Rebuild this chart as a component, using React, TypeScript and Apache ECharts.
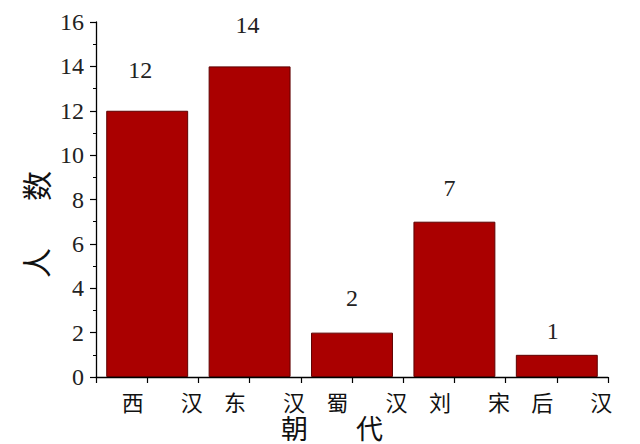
import React, { useEffect, useRef } from "react";
import * as echarts from "echarts";

const dynasties = ["西汉", "东汉", "蜀汉", "刘宋", "后汉"];
const counts = [12, 14, 2, 7, 1];
const yTicks = [0, 2, 4, 6, 8, 10, 12, 14, 16];
const xTitle = ["朝", "代"];
const yTitle = ["人", "数"];

// label styling (gap above each bar, horizontal nudge)
const labelDistance = [29, 29, 23, 22, 12];
const labelNudge = [-7, -2, 0, -5, -4];

const serif = "'Liberation Serif', 'Times New Roman', serif";
const cjk = "'Noto Sans CJK SC', sans-serif";

export default function App() {
  const ref = useRef<HTMLDivElement>(null);
  useEffect(() => {
    if (!ref.current) return;
    const chart = echarts.init(ref.current, null, { renderer: "svg" });
    const option = {
      animation: false,
      backgroundColor: "#ffffff",
      grid: {
        left: 96,
        right: 32,
        top: 22,
        bottom: 67,
        containLabel: false,
        outerBoundsMode: "none",
      },
      xAxis: [
        {
          type: "category",
          data: dynasties,
          position: "bottom",
          axisLine: { show: true, lineStyle: { color: "#000", width: 1.3 } },
          axisTick: { show: false },
          axisLabel: {
            margin: 13,
            interval: 0,
            formatter: (v: string) => `{s0| }{c|${v[0]}}{g| }{c|${v[1]}}`,
            rich: {
              c: { fontFamily: cjk, fontSize: 22, color: "#111" },
              g: { width: 37 },
              s0: { width: 30 },
            },
          },
          name: `{c|${xTitle[0]}}{g| }{c|${xTitle[1]}}{s| }`,
          nameLocation: "middle",
          nameGap: 37,
          nameMoveOverlap: false,
          nameTextStyle: {
            rich: {
              c: { fontFamily: cjk, fontSize: 27, color: "#111", lineHeight: 27 },
              g: { width: 48 },
              s: { width: 40 },
            },
          },
        },
        {
          type: "value",
          min: 0,
          max: dynasties.length * 2,
          interval: 1,
          position: "bottom",
          axisLine: { show: false },
          axisTick: { show: true, length: 6, lineStyle: { color: "#000", width: 1.2 } },
          axisLabel: { show: false },
          splitLine: { show: false },
        },
      ],
      yAxis: {
        type: "value",
        min: yTicks[0],
        max: yTicks[yTicks.length - 1],
        interval: yTicks[1] - yTicks[0],
        axisLine: { show: true, lineStyle: { color: "#000", width: 1.3 } },
        axisTick: { show: true, length: 6, lineStyle: { color: "#000", width: 1.2 } },
        minorTick: { show: true, splitNumber: 2, length: 3, lineStyle: { color: "#000", width: 1 } },
        splitLine: { show: false },
        axisLabel: {
          margin: 12,
          fontFamily: serif,
          fontSize: 24,
          color: "#222",
        },
        name: `{c|${yTitle[0]}}{g| }{c|${yTitle[1]}}{s| }`,
        nameLocation: "middle",
        nameRotate: 90,
        nameGap: 46,
        nameMoveOverlap: false,
        nameTextStyle: {
          rich: {
            c: { fontFamily: cjk, fontSize: 30, color: "#111" },
            g: { width: 47 },
            s: { width: 50 },
          },
        },
      },
      series: [
        {
          type: "bar",
          xAxisIndex: 0,
          yAxisIndex: 0,
          barWidth: "80%",
          data: counts.map((v, i) => ({
            value: v,
            label: { distance: labelDistance[i], offset: [labelNudge[i], 0] },
          })),
          itemStyle: { color: "#aa0000", borderColor: "#5e0000", borderWidth: 1 },
          label: {
            show: true,
            position: "top",
            fontFamily: serif,
            fontSize: 24,
            color: "#222",
          },
        },
      ],
    };
    chart.setOption(option as any);
    return () => chart.dispose();
  }, []);
  return (
    <div
      ref={ref}
      style={{ position: "fixed", left: 0, top: 0, width: 640, height: 444, background: "#fff" }}
    />
  );
}
